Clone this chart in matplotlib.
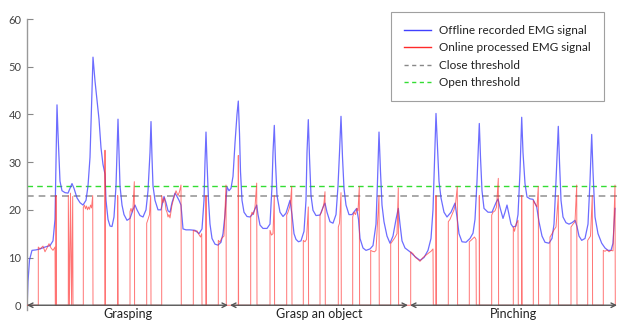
import matplotlib
matplotlib.use("Agg")
import matplotlib.pyplot as plt
from matplotlib.lines import Line2D
from matplotlib.transforms import blended_transform_factory

plt.rcParams['font.family'] = ['Lato', 'DejaVu Sans']

# offline recorded EMG signal (time, amplitude)
blue_t = [27, 28, 29.5, 32, 36, 40, 45, 50, 53, 55, 56, 57, 58, 59, 60, 62, 65, 68, 70, 72,
          74, 77, 80, 83, 86, 88, 90, 92, 93, 95, 97, 99, 101, 103, 105, 106, 108, 110, 112, 114,
          116, 117, 118, 119, 120, 122, 124, 127, 130, 133, 135, 137, 140, 143, 146, 148, 150, 151, 152, 153,
          155, 158, 161, 164, 166, 168, 170, 172, 175, 177, 179, 181, 183, 186, 190, 195, 199, 202, 204, 205,
          206, 207, 208.5, 210, 212, 215, 218, 221, 223, 225, 227, 229, 231, 233, 235, 237, 238.3, 239.5, 240.5, 242,
          244, 247, 250, 253, 256.7, 258, 260, 263, 267, 270, 272, 273, 274.3, 275.5, 277, 280, 283, 286, 290, 292,
          294, 296, 298.5, 301, 304, 306, 307, 308.3, 309.5, 311, 313, 316, 320, 323, 325, 327, 330, 333, 336, 338,
          339.5, 341, 342.5, 344, 346, 349, 352, 356.7, 358.5, 360, 363, 366, 370, 373, 376, 377.5, 379, 380.5, 382, 384,
          387, 390, 393, 396, 398.3, 400, 402, 405, 410, 415, 420, 424, 428, 431, 433, 434.5, 436, 437.5, 439, 441,
          444, 447, 451, 455, 457, 459, 462, 466, 470, 473, 475, 477, 479.3, 480.5, 482, 484, 488, 492, 496, 498,
          500, 503, 505, 507, 509, 511, 513, 516, 518, 520, 521.7, 523, 525, 527, 530, 533, 536.7, 539, 542, 545,
          549, 552, 554, 556, 558.3, 559.5, 561, 563, 566, 569, 572, 575, 577, 579, 581.7, 585, 588, 590, 591.7, 593,
          595, 598, 601.7, 605, 608, 611, 613, 615]
blue_v = [-1, 5, 9.5, 11.5, 11.6, 11.8, 12.2, 12.5, 13.5, 18, 30, 42, 36, 31, 26, 24, 23.6, 23.5, 24.5, 25.5,
          24.5, 22.5, 21.5, 21, 22, 25, 31, 45, 52, 47, 43, 39, 33, 29.5, 27.5, 22, 18, 16.6, 16.5, 18.5,
          25, 32, 39, 32, 25, 21, 19, 17.8, 18.2, 20, 21, 20, 18.8, 18.5, 20, 24, 32, 38.5, 31, 25,
          22, 20, 20, 22.8, 21.5, 19.8, 19.5, 21.5, 23.5, 22.8, 22, 21, 16, 15.8, 15.8, 15.7, 15, 16, 22, 30,
          36.3, 30, 22, 17, 14, 12.8, 12.6, 13.2, 15, 19, 24.8, 24, 24.5, 27, 34, 40, 42.8, 36, 28, 22,
          19.5, 18.6, 18.5, 19.2, 21, 19, 16.8, 16.1, 16.1, 17, 25, 32, 37.7, 30, 23, 19.5, 18.6, 19.3, 22, 19,
          15, 13.8, 13.3, 13.5, 15.5, 22, 32, 38.9, 31, 23, 19.9, 18.8, 18.9, 20.5, 21.4, 19.5, 17.5, 17.2, 19, 25,
          32, 39.6, 31, 24.5, 21, 19, 19, 20.3, 18, 14, 12, 11.5, 11.8, 12.5, 17, 26, 36.3, 28, 21, 17.5,
          14.5, 13, 14.5, 18, 20.3, 17, 13.5, 12, 11.2, 10.2, 9.4, 10, 11.5, 14, 20, 30, 40.2, 33, 26, 22.5,
          19.5, 18.5, 19.5, 21.4, 18.5, 15, 13.3, 13.2, 14, 15.1, 18, 26, 38.1, 31, 24, 20.3, 19.5, 19.5, 21.5, 22.3,
          20.5, 18.2, 19.5, 21, 19, 17, 16.4, 16.6, 19, 28, 39.4, 32, 25.5, 22.7, 22.3, 22.2, 20.6, 17.5, 14.5, 13.2,
          13, 14, 17, 26, 37.5, 30, 22, 18.5, 17.3, 17, 17.3, 17.8, 16.5, 14.5, 13.6, 14, 17, 26, 35.8, 28,
          18.5, 15, 13, 12, 11.5, 11.5, 13, 20.3]

# online processed EMG signal: active bursts, the signal is 0 between them
red_bursts = [
    [(38.3, 12.2), (40, 11.8), (43, 12.4), (45, 11.2), (47, 12), (49, 12.9), (51, 12), (53, 11.5), (55, 12.2)],
    [(56, 23)],
    [(68.3, 23), (69.4, 0), (70.5, 23.5), (71.6, 0), (72.7, 22.8)],
    [(83.3, 20.5), (84.5, 21), (85.5, 20.2), (86.5, 20.8), (87.5, 20), (88.5, 20.6), (89.5, 20.1),
     (90.5, 21), (91.5, 20.4), (92.7, 23)],
    [(105, 32.5)],
    [(117.7, 23)],
    [(130, 19.6), (131, 20.3), (132, 19.5), (133, 20.5), (134.3, 25.9)],
    [(146.7, 17.2), (148, 18), (149.5, 19), (150.7, 23)],
    [(161.7, 23), (163, 21.5), (164.5, 22.5), (166, 20), (167, 19.5), (168, 18.5), (169, 19), (170, 18.3),
     (172, 21), (174, 22.6), (176, 24), (178, 23), (179.5, 23.8), (181, 25.2)],
    [(193.3, 15.7), (195, 15.5), (197, 15.6), (199, 14.8), (200.5, 14.3), (201.7, 15)],
    [(206, 23)],
    [(218.3, 13.6), (220, 13.2), (221.5, 14), (223, 14.3), (224, 14.5), (226, 25.2)],
    [(238.3, 31.4)],
    [(250.7, 18.5), (252, 19.5), (253.5, 19), (255, 20.6), (256.7, 25.6)],
    [(270, 15.7), (271.5, 14.7), (273, 15), (274.3, 23)],
    [(286.7, 18.9), (288, 19.5), (289.5, 20.5), (290.5, 21.7), (291.7, 24.9)],
    [(303.3, 13.6), (305, 13.3), (306.5, 13.8), (308.3, 20.6)],
    [(320, 18.9), (321.5, 19.5), (323, 20.5), (324, 21.5), (325, 23.8)],
    [(338.3, 16.4), (339.5, 17.2), (341, 23.6)],
    [(352.7, 18.5), (354, 19.5), (355.5, 19), (357, 20.3), (358, 19.8), (359.3, 24.9)],
    [(370.7, 11.5), (372.5, 11.3), (374.5, 11.2), (376, 11.5), (379, 23)],
    [(390.7, 12.9), (393, 13.6), (395, 14.2), (397, 15), (398.3, 24.6)],
    [(410.7, 11.2), (413, 10.8), (415.5, 10), (418, 9.6), (420, 9.2), (423, 10), (426, 10.5), (429, 11),
     (431, 11.3), (433, 11.8)],
    [(436, 23)],
    [(448.3, 17.5), (450, 18), (452, 19), (454, 20), (455.5, 21.2), (457.3, 24.9)],
    [(469.3, 13.3), (471, 13.6), (473, 14), (474.5, 14.3), (476, 13.8)],
    [(479.3, 23)],
    [(491.7, 18.9), (493, 19.5), (495, 19.8), (496.5, 20.6), (498.3, 26.6)],
    [(513.3, 16.4), (514.5, 15.5), (516, 17), (518, 17.8)],
    [(521.7, 23)],
    [(533.3, 22), (534.5, 21.5), (536, 21), (537, 20.6), (538.3, 24.9)],
    [(550, 14.3), (552, 15), (554, 15.8), (556, 16.4), (558.3, 23)],
    [(571, 16.4), (573, 17), (575, 17.5), (576.7, 25.2)],
    [(587.7, 13.6), (589, 14), (590.5, 14.5), (592.3, 23)],
    [(603.3, 11.5), (605, 11.3), (607, 11.6), (609, 11.2), (611, 11.5), (613, 11.4), (615, 25.2)],
]

close_threshold = 23
open_threshold = 25

phases = ["Grasping", "Grasp an object", "Pinching"]
phase_bounds = [(27, 228), (230, 408), (410, 617)]

yticks = [0, 10, 20, 30, 40, 50, 60]

# build the red trace: drop to 0 before and after every burst
red_t = [27]
red_v = [0]
for burst in red_bursts:
    red_t.append(burst[0][0])
    red_v.append(0)
    for t, v in burst:
        red_t.append(t)
        red_v.append(v)
    red_t.append(burst[-1][0] + 0.3)
    red_v.append(0)
red_t.append(615)
red_v.append(0)

fig = plt.figure(figsize=(6.19, 3.22), dpi=100)
ax = fig.add_axes([27 / 619, 12 / 322, 590 / 619, 291 / 322])

ax.plot(red_t, red_v, color='#ff2a2a', lw=0.7, alpha=0.65, zorder=3)
ax.plot(blue_t, blue_v, color='#4848ff', lw=0.9, alpha=0.8, zorder=2)
ax.axhline(close_threshold, color='#999999', lw=1.2, ls=(0, (4, 3)), zorder=1)
ax.axhline(open_threshold, color='#33dd33', lw=1.0, ls=(0, (4, 3)), zorder=1)

# phase arrows along the baseline, labels just under them
label_trans = blended_transform_factory(ax.transData, fig.transFigure)
for name, (a, b) in zip(phases, phase_bounds):
    ax.annotate('', xy=(a, 0), xytext=(b, 0),
                arrowprops=dict(arrowstyle='<->', color='#555555', lw=1.0,
                                mutation_scale=8, shrinkA=0, shrinkB=0),
                annotation_clip=False, zorder=4)
    ax.text((a + b) / 2, 4 / 322, name, ha='center', va='baseline', fontsize=9,
            color='#222222', transform=label_trans, clip_on=False)

ax.set_xlim(27, 617)
ax.set_ylim(-1, 60)
ax.set_yticks(yticks)
ax.set_xticks([])
ax.tick_params(axis='y', direction='in', length=4, width=0.8, color='#888888',
               labelsize=8, labelcolor='#444444', pad=4)
for side in ['top', 'right', 'bottom']:
    ax.spines[side].set_visible(False)
ax.spines['left'].set_color('#999999')
ax.spines['left'].set_linewidth(1.0)

handles = [
    Line2D([], [], color='#4040ff', lw=1.0),
    Line2D([], [], color='#ff2a2a', lw=1.0),
    Line2D([], [], color='#888888', lw=1.0, ls=(0, (3, 2.5))),
    Line2D([], [], color='#33dd33', lw=1.0, ls=(0, (3, 2.5))),
]
labels = ['Offline recorded EMG signal', 'Online processed EMG signal',
          'Close threshold', 'Open threshold']
leg = ax.legend(handles, labels, loc='upper left', bbox_to_anchor=(391 / 619, 1 - 12 / 322),
                bbox_transform=fig.transFigure, fontsize=8.5, frameon=True, fancybox=False,
                edgecolor='#888888', handlelength=2.3, handletextpad=0.7, labelspacing=0.55,
                borderpad=1.1, borderaxespad=0)
leg.get_frame().set_linewidth(0.8)
for t in leg.get_texts():
    t.set_color('#222222')

fig.savefig('out.png', dpi=100)
